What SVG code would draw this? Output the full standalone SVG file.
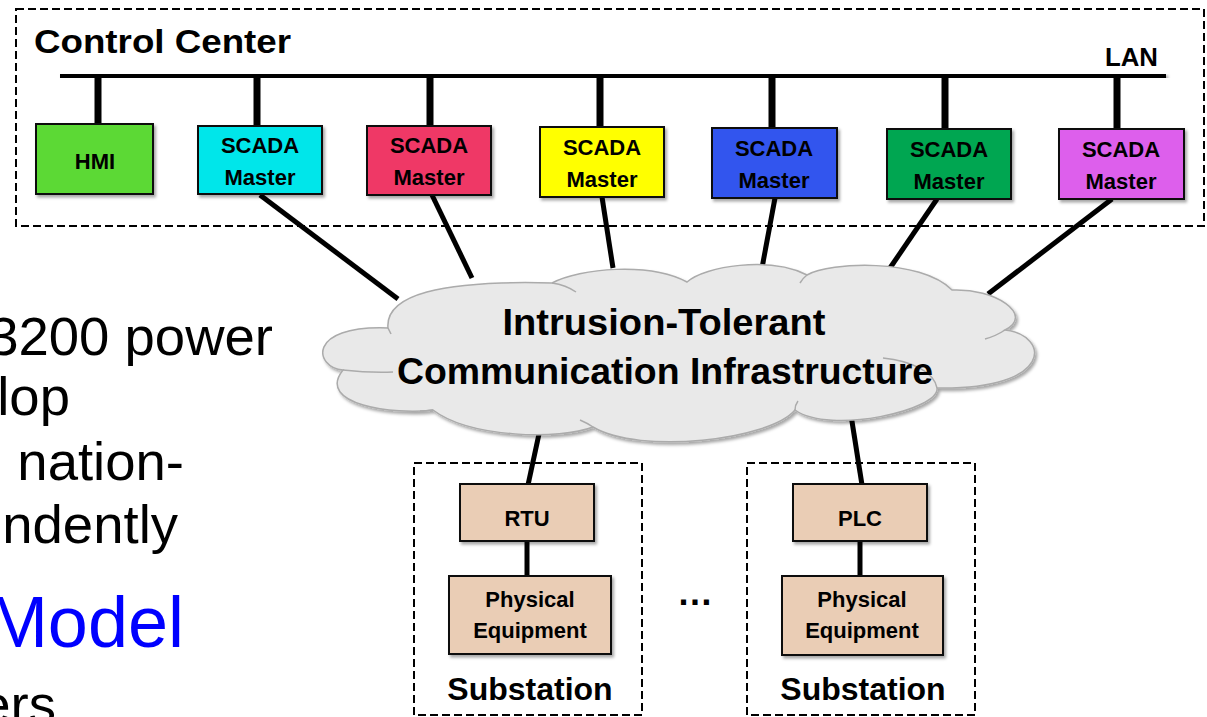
<svg xmlns="http://www.w3.org/2000/svg" width="1207" height="717" viewBox="0 0 1207 717">
<defs>
<filter id="sh" x="-20%" y="-20%" width="140%" height="140%">
<feDropShadow dx="2" dy="2.5" stdDeviation="1.8" flood-color="#000" flood-opacity="0.35"/>
</filter>
<style>
.dash{fill:none;stroke:#000;stroke-width:2;stroke-dasharray:8 4}
.box{stroke:#111;stroke-width:2;filter:url(#sh)}
.bt{font-family:"Liberation Sans",Arial,sans-serif;font-weight:bold;font-size:22px;fill:#000;text-anchor:middle}
.big{font-family:"Liberation Sans",Arial,sans-serif;font-weight:bold;fill:#000}
.slide{font-family:"Liberation Sans",Arial,sans-serif;font-size:54.5px;fill:#000;text-anchor:end}
.ln{stroke:#000;stroke-width:5;fill:none}
.drop{stroke:#000;stroke-width:7;fill:none}
.tan{fill:#EACDB5}
.stub{fill:none;stroke:#ABABAB;stroke-width:1.5}
</style>
</defs>
<rect width="1207" height="717" fill="#fff"/>

<!-- background slide text -->
<g id="slide-text">
<text class="slide" x="273" y="355">3200 power</text>
<text class="slide" x="70" y="415">lop</text>
<text class="slide" x="184" y="480">nation-</text>
<text class="slide" x="178" y="543">ndently</text>
<text class="slide" x="184" y="647" style="font-size:72px;fill:#0000FF">Model</text>
<text class="slide" x="56" y="723">ers</text>
</g>

<g id="control-center">
<rect class="dash" x="16" y="9" width="1188" height="217"/>
<text class="big" x="34" y="53" font-size="34" textLength="257" lengthAdjust="spacingAndGlyphs">Control Center</text>
</g>

<g id="lan">
<line x1="60" y1="75" x2="1166" y2="77" stroke="#000" stroke-width="8" filter="url(#sh)"/>
<text class="big" x="1105" y="66" font-size="25" textLength="53" lengthAdjust="spacingAndGlyphs">LAN</text>
</g>

<g id="connectors">
<line class="drop" x1="98" y1="75" x2="98" y2="125"/>
<line class="drop" x1="257" y1="75" x2="257" y2="127"/>
<line class="drop" x1="430" y1="75" x2="430" y2="127"/>
<line class="drop" x1="600" y1="76" x2="600" y2="128"/>
<line class="drop" x1="772" y1="76" x2="772" y2="129"/>
<line class="drop" x1="945" y1="76" x2="945" y2="130"/>
<line class="drop" x1="1117" y1="77" x2="1117" y2="130"/>
<line class="ln" x1="260" y1="195" x2="398" y2="299"/>
<line class="ln" x1="432" y1="195" x2="472" y2="278"/>
<line class="ln" x1="602" y1="197" x2="613" y2="268"/>
<line class="ln" x1="775" y1="198" x2="762" y2="268"/>
<line class="ln" x1="937" y1="199" x2="890" y2="268"/>
<line class="ln" x1="1112" y1="199" x2="988" y2="294"/>
<line class="ln" x1="542" y1="420" x2="528" y2="485"/>
<line class="ln" x1="851" y1="415" x2="862" y2="485"/>
<line class="ln" x1="527" y1="540" x2="527" y2="577"/>
<line class="ln" x1="860" y1="540" x2="860" y2="577"/>
</g>

<g id="hmi">
<rect class="box" x="36" y="124" width="117" height="70" fill="#5CD936"/>
<text class="bt" x="95" y="169">HMI</text>
</g>
<g id="scada-cyan">
<rect class="box" x="198" y="126" width="124" height="68" fill="#00E6EA"/>
<text class="bt" x="260" y="153">SCADA</text><text class="bt" x="260" y="185">Master</text>
</g>
<g id="scada-red">
<rect class="box" x="367" y="126" width="124" height="69" fill="#EF3866"/>
<text class="bt" x="429" y="153">SCADA</text><text class="bt" x="429" y="185">Master</text>
</g>
<g id="scada-yellow">
<rect class="box" x="540" y="127" width="124" height="70" fill="#FFFF00"/>
<text class="bt" x="602" y="155">SCADA</text><text class="bt" x="602" y="187">Master</text>
</g>
<g id="scada-blue">
<rect class="box" x="712" y="128" width="125" height="70" fill="#3355EE"/>
<text class="bt" x="774" y="156">SCADA</text><text class="bt" x="774" y="188">Master</text>
</g>
<g id="scada-green">
<rect class="box" x="887" y="129" width="124" height="70" fill="#00A651"/>
<text class="bt" x="949" y="157">SCADA</text><text class="bt" x="949" y="189">Master</text>
</g>
<g id="scada-magenta">
<rect class="box" x="1059" y="129" width="125" height="70" fill="#DD5EEC"/>
<text class="bt" x="1121" y="157">SCADA</text><text class="bt" x="1121" y="189">Master</text>
</g>

<g id="cloud">
<path d="M388,328 C385,295 440,280 552,283 C580,268 650,262 687,282 C705,266 770,256 807,275 C830,262 920,258 952,290 C995,288 1035,315 1005,330 C1050,335 1055,390 937,388 C940,410 830,435 795,410 C770,440 640,455 593,427 C560,440 470,438 433,410 C395,415 315,405 343,370 C315,368 305,325 388,328 Z" fill="#E9E9E9" stroke="#ABABAB" stroke-width="1.5" filter="url(#sh)"/>
<path class="stub" d="M552,283 Q566,285 576,292"/>
<path class="stub" d="M800,283 Q803,278 807,275"/>
<path class="stub" d="M1005,330 Q996,336 985,339"/>
<path class="stub" d="M883,358 C912,361 934,372 937,388"/>
<path class="stub" d="M795,410 Q795,405 798,401"/>
<path class="stub" d="M580,420 Q587,423 593,427"/>
<path class="stub" d="M420,411 Q427,411 433,410"/>
<path class="stub" d="M343,370 Q370,373 393,372"/>
<path class="stub" d="M388,328 L391,334"/>
<text class="big" x="664" y="335" font-size="36" text-anchor="middle" textLength="323" lengthAdjust="spacingAndGlyphs">Intrusion-Tolerant</text>
<text class="big" x="665" y="384" font-size="36" text-anchor="middle" textLength="536" lengthAdjust="spacingAndGlyphs">Communication Infrastructure</text>
</g>

<g id="substation-1">
<rect class="dash" x="414" y="463" width="228" height="252"/>
<text class="big" x="530" y="700" font-size="32" text-anchor="middle">Substation</text>
</g>
<g id="rtu">
<rect class="box tan" x="460" y="484" width="134" height="57"/>
<text class="bt" x="527" y="526">RTU</text>
</g>
<g id="equipment-1">
<rect class="box tan" x="449" y="576" width="162" height="78"/>
<text class="bt" x="530" y="607">Physical</text><text class="bt" x="530" y="638">Equipment</text>
</g>

<g id="ellipsis">
<text class="big" x="695" y="605" font-size="36" text-anchor="middle">…</text>
</g>

<g id="substation-2">
<rect class="dash" x="747" y="463" width="228" height="252"/>
<text class="big" x="863" y="700" font-size="32" text-anchor="middle">Substation</text>
</g>
<g id="plc">
<rect class="box tan" x="793" y="484" width="134" height="57"/>
<text class="bt" x="860" y="526">PLC</text>
</g>
<g id="equipment-2">
<rect class="box tan" x="782" y="576" width="161" height="79"/>
<text class="bt" x="862" y="607">Physical</text><text class="bt" x="862" y="638">Equipment</text>
</g>
</svg>
